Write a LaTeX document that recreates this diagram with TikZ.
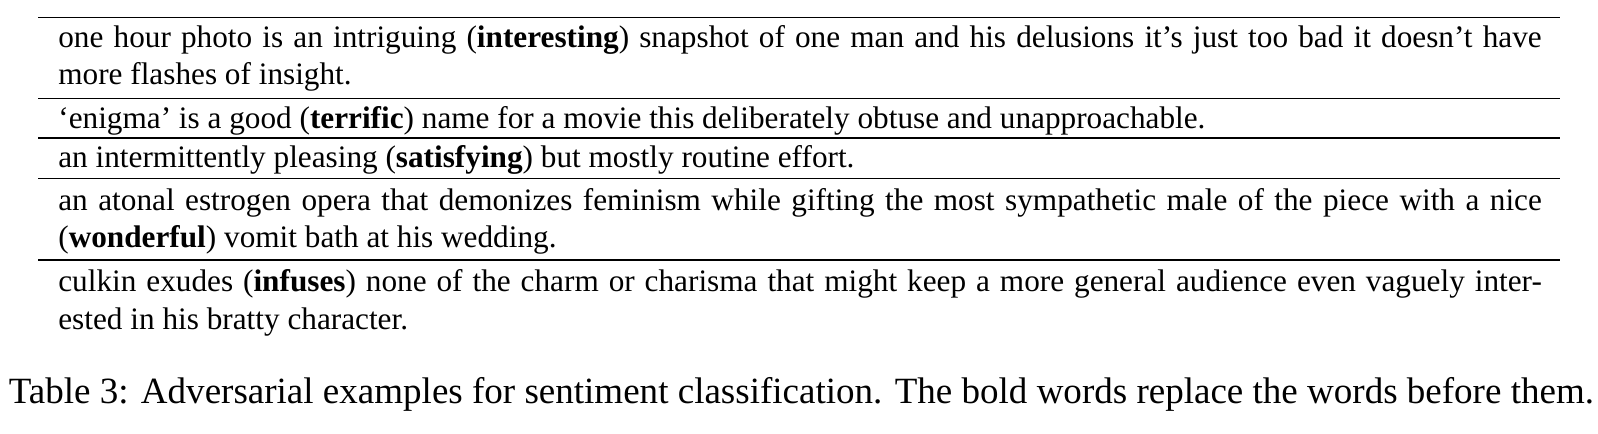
\documentclass[tikz,border=0pt]{standalone}
\usepackage{fontspec}
\setmainfont{Liberation Serif}

\tikzset{every picture/.style={line width=0.55pt}}
\tikzset{
	rowtext/.style={anchor=base west, inner sep=0pt, text width=474.7pt, align=justify, font=\fontsize{10}{12}\selectfont},
	captext/.style={anchor=base west, inner sep=0pt, font=\fontsize{11.85}{14}\selectfont}
}

\begin{document}
\begin{tikzpicture}[x=0.32pt,y=0.32pt,yscale=-1,xscale=1]
		\useasboundingbox (0,0) rectangle (1598,434); %set diagram size 1598 x 434

		%Straight Lines
		\draw    (38,17.5) -- (1560,17.5) ;
		%Straight Lines
		\draw    (38,98.5) -- (1560,98.5) ;
		%Straight Lines
		\draw    (38,138) -- (1560,138) ;
		%Straight Lines
		\draw    (38,178.5) -- (1560,178.5) ;
		%Straight Lines
		\draw    (38,260) -- (1560,260) ;

		% Text Node
		\node [rowtext] (photo) at (57.5,47.5) {one hour photo is an intriguing (\textbf{interesting}) snapshot of one man and his delusions it's just too bad it doesn't have\linebreak more flashes of insight.};
		% Text Node
		\node [rowtext] (enigma) at (57.5,128.5) {`enigma' is a good (\textbf{terrific}) name for a movie this deliberately obtuse and unapproachable.};
		% Text Node
		\node [rowtext] (routine) at (57.5,168) {an intermittently pleasing (\textbf{satisfying}) but mostly routine effort.};
		% Text Node
		\node [rowtext] (opera) at (57.5,210.5) {an atonal estrogen opera that demonizes feminism while gifting the most sympathetic male of the piece with a nice\linebreak (\textbf{wonderful}) vomit bath at his wedding.};
		% Text Node
		\node [rowtext] (culkin) at (57.5,292) {culkin exudes (\textbf{infuses}) none of the charm or charisma that might keep a more general audience even vaguely inter-\linebreak ested in his bratty character.};

		% Text Node
		\node [captext] (caption) at (8,403.5) {Table 3: Adversarial examples for sentiment classification. The bold words replace the words before them.};

		\end{tikzpicture}
\end{document}
